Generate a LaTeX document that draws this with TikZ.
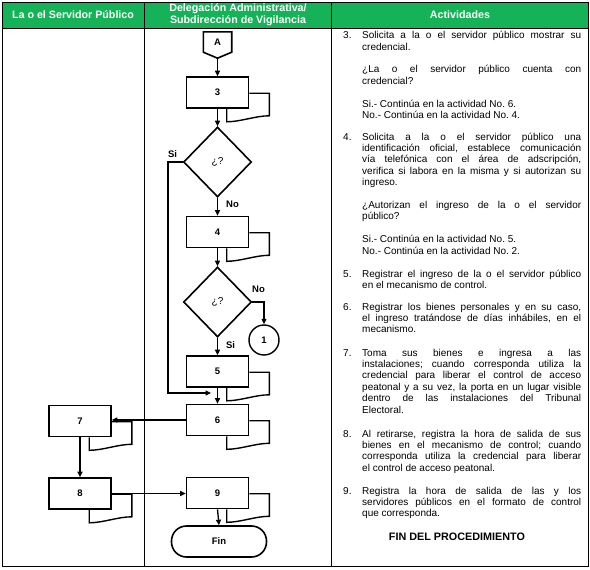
\documentclass[tikz,border=0pt]{standalone}
\usepackage{fontspec}
\setmainfont{Liberation Sans}
\usetikzlibrary{shapes.geometric,arrows.meta,calc}
\definecolor{hdrgreen}{RGB}{22,178,88}
\newcommand\docback[1]{%
  \draw[docline] ([yshift=-17pt]#1.north east) -- ++(20pt,0pt)
    -- ([shift={(20pt,-7pt)}]#1.south east)
    .. controls +(-14pt,0pt) and +(14pt,0pt) .. ([shift={(41pt,-13pt)}]#1.south west)
    -- ([xshift=41pt]#1.south west);}
\newcommand\actbox[1]{\begin{minipage}[t]{238pt}\fontsize{10}{11.4}\selectfont
  \parindent=0pt\leftskip=19pt\rightskip=0pt\parfillskip=0pt plus 1fil
  \parskip=11.4pt\tolerance=10000\hyphenpenalty=10000\frenchspacing
  #1\par\end{minipage}}
\newcommand\actnum[1]{\noindent\llap{\makebox[19pt][l]{#1}}}
\begin{document}
\begin{tikzpicture}[x=1pt,y=-1pt,
  tline/.style={line width=0.8pt, draw=black},
  pbox/.style={draw, line width=1.6pt, fill=white, minimum width=62pt, minimum height=31pt, inner sep=0pt, font=\bfseries\fontsize{9.5}{11}\selectfont},
  docline/.style={line width=1.4pt},
  dec/.style={draw, diamond, line width=1.6pt, fill=white, minimum width=68pt, minimum height=70pt, inner sep=0pt, font=\fontsize{10}{12}\selectfont},
  arr/.style={line width=1.3pt, -{Triangle[length=5.5pt,width=5pt]}},
  lbl/.style={font=\bfseries\fontsize{9.5}{11}\selectfont, inner sep=0pt},
  hdr/.style={text=white, font=\bfseries\fontsize{10.7}{12}\selectfont, inner sep=0pt, align=center},
  actv/.style={anchor=base west, inner sep=0pt},
]
\useasboundingbox (0,0) rectangle (590,570);
% table
\fill[hdrgreen] (2,2) rectangle (588,28);
\draw[tline] (2,2) rectangle (588,566);
\draw[tline] (2,28) -- (588,28);
\draw[tline] (144,2) -- (144,566);
\draw[tline] (331,2) -- (331,566);
\node[hdr] (h1) at (73,15) {La o el Servidor Público};
\node[hdr] (h2) at (238,15) {Delegación Administrativa/\\Subdirección de Vigilancia};
\node[hdr] (h3) at (460,15) {Actividades};
% flowchart
\node[font=\bfseries\fontsize{9.5}{11}\selectfont, inner sep=0pt, minimum width=28pt, minimum height=20pt] (A) at (217.5,42) {A};
\draw[line width=1.6pt] (A.north west) -- (A.north east) -- (A.south east) -- ([yshift=-6pt]A.south) -- (A.south west) -- cycle;
\coordinate (Atip) at ([yshift=-6pt]A.south);
\node[pbox] (b3) at (217.5,92.5) {3};
\node[dec] (d1) at (217.5,162) {¿?};
\node[pbox] (b4) at (217.5,232) {4};
\node[dec] (d2) at (217.5,302) {¿?};
\node[draw, circle, line width=1.4pt, minimum size=30pt, inner sep=0pt, font=\bfseries\fontsize{9.5}{11}\selectfont] (c1) at (264,340) {1};
\node[pbox] (b5) at (217.5,371.5) {5};
\node[pbox] (b6) at (217.5,420) {6};
\node[pbox] (b7) at (80,421) {7};
\node[pbox] (b8) at (80,493.5) {8};
\node[pbox] (b9) at (217.5,493) {9};
\node[draw, line width=1.6pt, rounded corners=15pt, minimum width=95pt, minimum height=31pt, inner sep=0pt, font=\bfseries\fontsize{9.5}{11}\selectfont] (fin) at (219,541.5) {Fin};
\docback{b3}\docback{b4}\docback{b5}\docback{b6}\docback{b7}\docback{b8}\docback{b9}
% connectors
\draw[arr] (Atip) -- (b3.north);
\draw[arr] (b3.south) -- (d1.north);
\draw[arr] (d1.south) -- (b4.north);
\draw[arr] (b4.south) -- (d2.north);
\draw[arr] (d2.south) -- (b5.north);
\draw[arr] (b5.south) -- (b6.north);
\coordinate (siturn) at (168,393);
\coordinate (sijoin) at (211,393);
\draw[arr] (d1.west) -| (siturn) -- (sijoin);
\draw[arr] (d2.east) -| (c1.north);
\draw[arr] (b6.west) -- (b6.west -| b7.east);
\draw[arr] (b7.south) -- (b8.north);
\draw[arr] (b8.east) -- (b8.east -| b9.west);
\draw[arr] (b9.south) -- (fin.north);
\node[lbl] (lsi1) at (172.5,154) {Si};
\node[lbl] (lno1) at (232.5,204) {No};
\node[lbl] (lno2) at (258.5,289.5) {No};
\node[lbl] (lsi2) at (230.5,345.5) {Si};
% activities
\node[actv] (t3) at (343,38.7) {\actbox{\actnum{3.}Solicita a la o el servidor público mostrar su \linebreak credencial.\par
¿La o el servidor público cuenta con \linebreak credencial?\par
Si.- Continúa en la actividad No. 6.\newline No.- Continúa en la actividad No. 4.}};
\node[actv] (t4) at (343,140) {\actbox{\actnum{4.}Solicita a la o el servidor público una \linebreak identificación oficial, establece comunicación \linebreak vía telefónica con el área de adscripción, \linebreak verifica si labora en la misma y si autorizan su \linebreak ingreso.\par
¿Autorizan el ingreso de la o el servidor \linebreak público?\par
Si.- Continúa en la actividad No. 5.\newline No.- Continúa en la actividad No. 2.}};
\node[actv] (t5) at (343,277) {\actbox{\actnum{5.}Registrar el ingreso de la o el servidor público \linebreak en el mecanismo de control.}};
\node[actv] (t6) at (343,310) {\actbox{\actnum{6.}Registrar los bienes personales y en su caso, \linebreak el ingreso tratándose de días inhábiles, en el \linebreak mecanismo.}};
\node[actv] (t7) at (343,356) {\actbox{\actnum{7.}Toma sus bienes e ingresa a las \linebreak instalaciones; cuando corresponda utiliza la \linebreak credencial para liberar el control de acceso \linebreak peatonal y a su vez, la porta en un lugar visible \linebreak dentro de las instalaciones del Tribunal \linebreak Electoral.}};
\node[actv] (t8) at (343,437) {\actbox{\actnum{8.}Al retirarse, registra la hora de salida de sus \linebreak bienes en el mecanismo de control; cuando \linebreak corresponda utiliza la credencial para liberar \linebreak el control de acceso peatonal.}};
\node[actv] (t9) at (343,494) {\actbox{\actnum{9.}Registra la hora de salida de las y los \linebreak servidores públicos en el formato de control \linebreak que corresponda.}};
\node[font=\bfseries\fontsize{10.8}{12}\selectfont, anchor=base, inner sep=0pt] (fintext) at (457,540.5) {FIN DEL PROCEDIMIENTO};
\end{tikzpicture}
\end{document}
